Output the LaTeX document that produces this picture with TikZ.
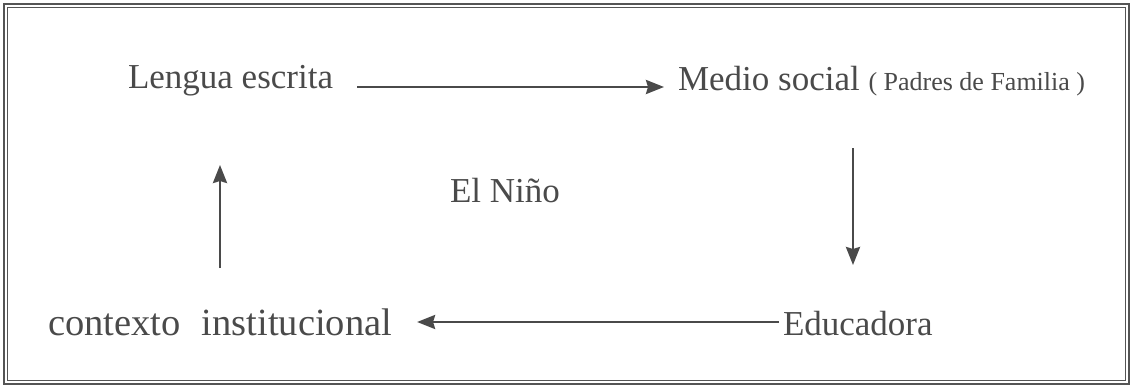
\documentclass[tikz,border=0pt]{standalone}
\usepackage{fontspec}
\setmainfont{Liberation Serif}
\usetikzlibrary{arrows.meta}
\definecolor{ink}{HTML}{4A4A4A}
\definecolor{frame}{HTML}{555555}
\begin{document}
\begin{tikzpicture}[x=1pt,y=-1pt,
  lbl/.style={anchor=base west,inner sep=0pt,outer sep=0pt,text=ink,font=\fontsize{35}{40}\selectfont},
  arr/.style={draw=ink,line width=2.6pt,-{Stealth[length=18pt,width=14pt,inset=2pt]}},
  frameline/.style={draw=frame,line width=1.3pt}]
\useasboundingbox (0,0) rectangle (1133,388);
\draw[frameline] (4,4) rectangle (1129,384);
\draw[frameline] (7.5,7.5) rectangle (1125.5,380.5);
\node[lbl] (lengua) at (128,88) {Lengua escrita};
\node[lbl] (medio) at (678,90) {Medio social {\fontsize{26}{30}\selectfont( Padres de Familia )}};
\node[lbl] (nino) at (450,202) {El Niño};
\node[lbl,font=\fontsize{38.5}{44}\selectfont] (contexto) at (48,335) {contexto\hspace{0.3em} institucional};
\node[lbl] (educ) at (783,335) {Educadora};
\coordinate (rtop) at (853,148);
\coordinate (rbot) at (853,265);
\coordinate (lbot) at (220,268);
\coordinate (ltop) at (220,165);
\draw[arr] ([xshift=24pt,yshift=1pt]lengua.base east) -- ([xshift=-14pt,yshift=1pt]medio.base west |- lengua.base east);
\draw[arr] (rtop) -- (rbot);
\draw[arr] ([xshift=-4pt,yshift=13pt]educ.base west) -- ([xshift=25pt,yshift=13pt]contexto.base east);
\draw[arr] (lbot) -- (ltop);
\end{tikzpicture}
\end{document}
